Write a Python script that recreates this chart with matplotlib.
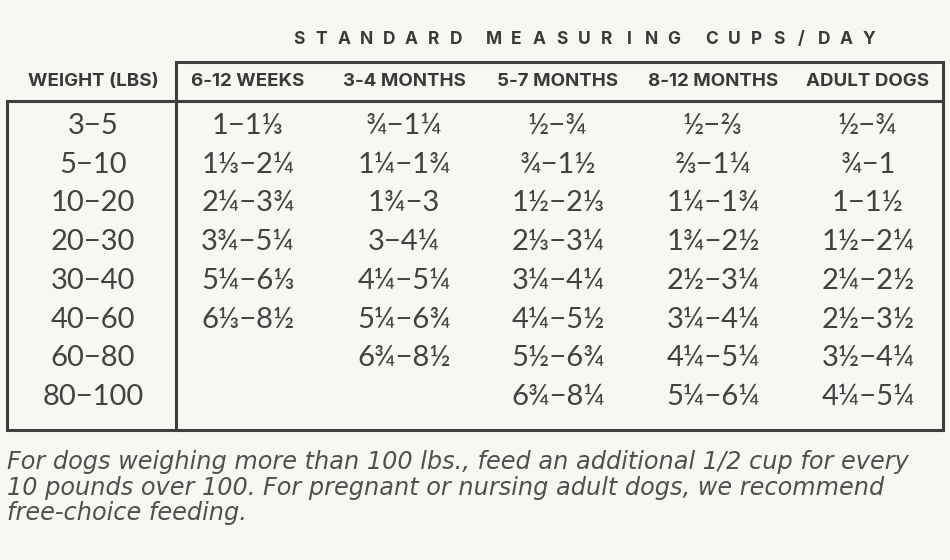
import matplotlib
matplotlib.use("Agg")
import matplotlib.pyplot as plt

# --- DATA ---
title = "STANDARD MEASURING CUPS/DAY"
weight_header = "WEIGHT (LBS)"
age_headers = ["6-12 WEEKS", "3-4 MONTHS", "5-7 MONTHS", "8-12 MONTHS", "ADULT DOGS"]
weights = ["3−5", "5−10", "10−20", "20−30", "30−40", "40−60", "60−80", "80−100"]
weeks_6_12 = ["1−1⅓", "1⅓−2¼", "2¼−3¾", "3¾−5¼", "5¼−6⅓", "6⅓−8½", "", ""]
months_3_4 = ["¾−1¼", "1¼−1¾", "1¾−3", "3−4¼", "4¼−5¼", "5¼−6¾", "6¾−8½", ""]
months_5_7 = ["½−¾", "¾−1½", "1½−2⅓", "2⅓−3¼", "3¼−4¼", "4¼−5½", "5½−6¾", "6¾−8¼"]
months_8_12 = ["½−⅔", "⅔−1¼", "1¼−1¾", "1¾−2½", "2½−3¼", "3¼−4¼", "4¼−5¼", "5¼−6¼"]
adult_dogs = ["½−¾", "¾−1", "1−1½", "1½−2¼", "2¼−2½", "2½−3½", "3½−4¼", "4¼−5¼"]
footnote = ("For dogs weighing more than 100 lbs., feed an additional 1/2 cup for every\n"
            "10 pounds over 100. For pregnant or nursing adult dogs, we recommend\n"
            "free-choice feeding.")

BG = "#f8f7f3"
INK = "#3a3a3a"
LINE = "#404040"
HDR_FONT = ["Inter", "DejaVu Sans"]
BODY_FONT = ["Lato", "DejaVu Sans"]

W, H = 950, 560
fig = plt.figure(figsize=(9.5, 5.6), dpi=100)
fig.patch.set_facecolor(BG)
ax = fig.add_axes([0, 0, 1, 1])
ax.set_xlim(0, W)
ax.set_ylim(H, 0)
ax.axis("off")

# layout (pixels)
left, split, right = 7, 176, 943
top_hdr, hdr_line, bottom = 62, 101, 430
col_x = [93, 248, 404, 558, 713, 868]
row0, row_step = 126, 38.7
lw = 2.2

# frame
ax.plot([split, right, right], [top_hdr, top_hdr, bottom], color=LINE, lw=lw, solid_joinstyle="miter")
ax.plot([left, right], [hdr_line, hdr_line], color=LINE, lw=lw)
ax.plot([left, left, right], [hdr_line, bottom, bottom], color=LINE, lw=lw, solid_joinstyle="miter")
ax.plot([split, split], [top_hdr, bottom], color=LINE, lw=lw)

# title, one letter at a time for the wide tracking
x = 299
for ch in title:
    if ch == " ":
        x += 15
        continue
    ax.text(x, 40, ch, ha="center", va="center", fontsize=12.5, fontweight="bold",
            color=INK, family=HDR_FONT)
    x += 22.5

# header row
ax.text(col_x[0], 82, weight_header, ha="center", va="center", fontsize=13.5,
        fontweight="bold", color=INK, family=HDR_FONT)
for x, lab in zip(col_x[1:], age_headers):
    ax.text(x, 82, lab, ha="center", va="center", fontsize=13.5, fontweight="bold",
            color=INK, family=HDR_FONT)

# body
columns = [weights, weeks_6_12, months_3_4, months_5_7, months_8_12, adult_dogs]
for x, col in zip(col_x, columns):
    for i, val in enumerate(col):
        if val:
            ax.text(x, row0 + i * row_step, val, ha="center", va="center", fontsize=21,
                    fontweight="normal", color="#424242", family=BODY_FONT)

# footnote
ax.text(7, 450, footnote, ha="left", va="top", fontsize=17.3, style="italic",
        color="#505050", family=["DejaVu Sans"], linespacing=1.08)

fig.savefig("out.png", dpi=100, facecolor=BG)
